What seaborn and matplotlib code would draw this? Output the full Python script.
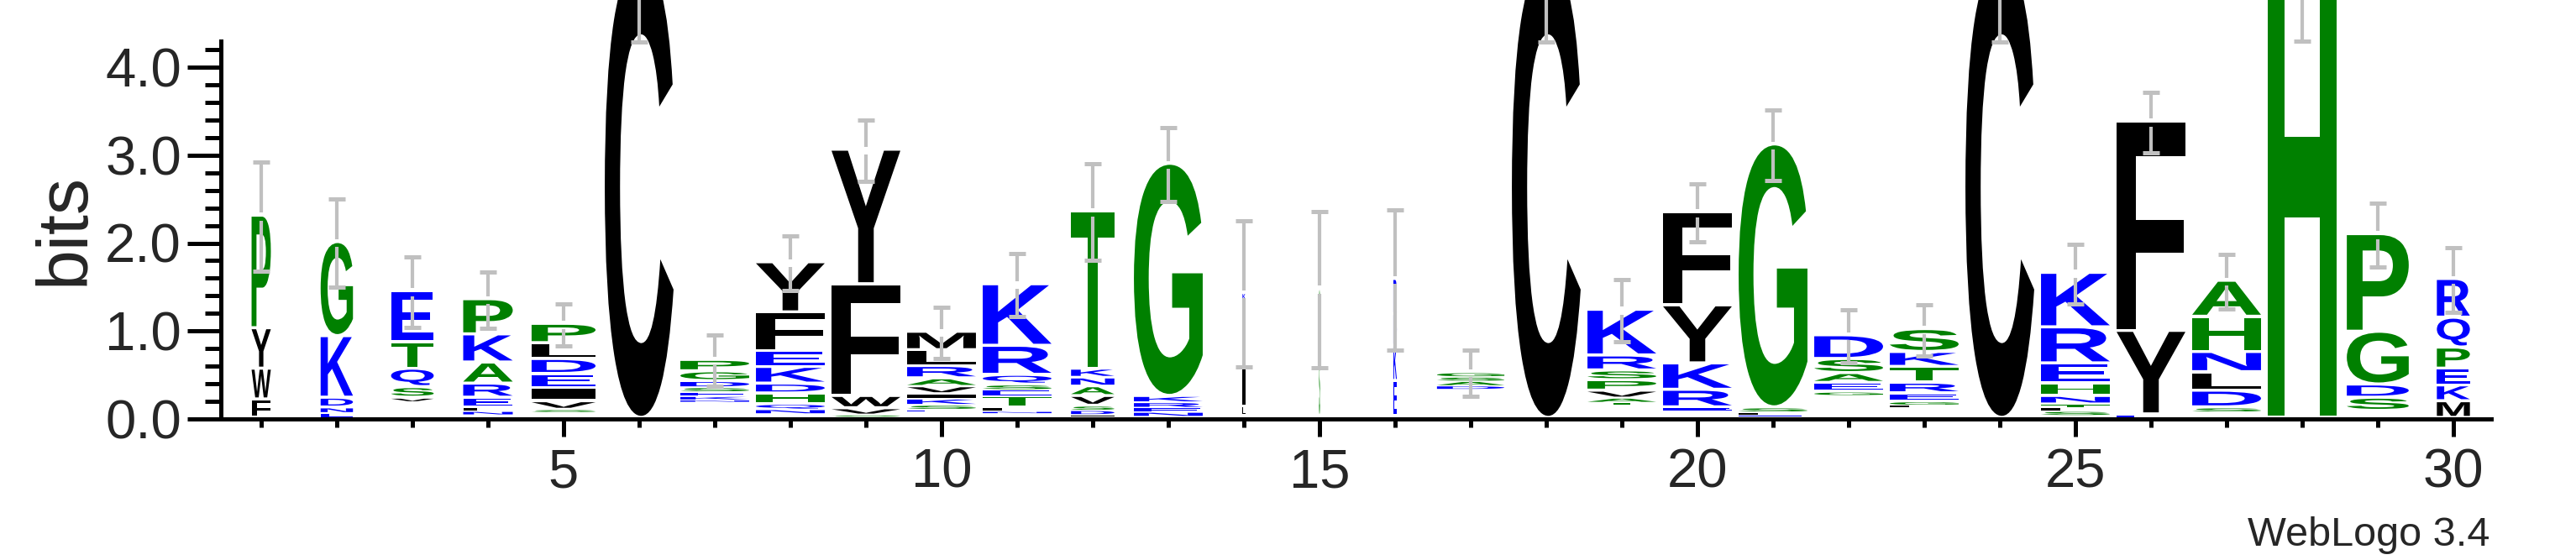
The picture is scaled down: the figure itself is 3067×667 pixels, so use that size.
import matplotlib
matplotlib.use("Agg")
import matplotlib.pyplot as plt
import matplotlib.transforms as mtransforms
from matplotlib.textpath import TextPath
from matplotlib.patches import PathPatch
from matplotlib.font_manager import FontProperties
from matplotlib.ticker import FixedLocator
import seaborn as sns

# sequence logo data, one entry per position (letters listed bottom -> top)
positions = list(range(1, 31))
stack_letters = [
    "FWYP", "ENDKG", "VSQTE", "NLERAKP", "SVIEDLP", "C",
    "NKESDGP", "NQHDKEFY", "SVWFY", "ESKIVARLM", "NLTESQRK", "IDSVANKT",
    "NERKG", "LIVAK", "SG", "EKDR", "DASG", "C",
    "TAVPSRK", "ERKYF", "ELSG", "GEASD", "LGERTKS", "C",
    "SLTNHERK", "EYF", "SDLNHA", "H", "SDGP", "MKEPQR",
]
stack_heights = [
    [0.21, 0.35, 0.46, 1.28],
    [0.06, 0.06, 0.11, 0.70, 1.07],
    [0.04, 0.12, 0.21, 0.30, 0.58],
    [0.04, 0.04, 0.11, 0.16, 0.24, 0.32, 0.40],
    [0.03, 0.09, 0.15, 0.16, 0.17, 0.18, 0.22],
    [5.20],
    [0.02, 0.04, 0.05, 0.05, 0.07, 0.11, 0.13],
    [0.05, 0.06, 0.12, 0.11, 0.19, 0.18, 0.44, 0.57],
    [0.02, 0.07, 0.14, 1.27, 1.53],
    [0.02, 0.05, 0.07, 0.06, 0.08, 0.09, 0.14, 0.18, 0.21],
    [0.02, 0.04, 0.13, 0.07, 0.06, 0.11, 0.33, 0.70],
    [0.02, 0.05, 0.05, 0.11, 0.11, 0.10, 0.10, 1.79],
    [0.05, 0.05, 0.06, 0.07, 2.64],
    [0.11, 0.43, 0.40, 0.38, 0.08],
    [0.70, 0.75],
    [0.40, 0.40, 0.36, 0.40],
    [0.04, 0.05, 0.05, 0.05],
    [5.20],
    [0.02, 0.05, 0.08, 0.12, 0.11, 0.17, 0.52],
    [0.03, 0.20, 0.30, 0.66, 1.06],
    [0.02, 0.03, 0.05, 2.99],
    [0.04, 0.10, 0.11, 0.16, 0.27],
    [0.02, 0.04, 0.09, 0.12, 0.18, 0.17, 0.26],
    [5.20],
    [0.05, 0.04, 0.04, 0.09, 0.14, 0.23, 0.41, 0.62],
    [0.03, 0.95, 2.38],
    [0.05, 0.19, 0.21, 0.23, 0.40, 0.41],
    [5.30],
    [0.15, 0.15, 0.60, 1.11],
    [0.19, 0.18, 0.19, 0.24, 0.34, 0.44],
]
# summed height of symbols too small to show at the bottom of each stack
hidden_height = [0.00, 0.00, 0.19, 0.04, 0.07, 0.00, 0.19, 0.05, 0.02, 0.08,
                 0.06, 0.02, 0.02, 0.02, 0.02, 0.02, 0.33, 0.00, 0.16, 0.09,
                 0.02, 0.26, 0.13, 0.00, 0.03, 0.01, 0.07, 0.00, 0.08, 0.00]
# error bar half length (bits)
error_bits = [0.62, 0.50, 0.40, 0.32, 0.24, 0.91, 0.29, 0.31, 0.35, 0.29,
              0.36, 0.55, 0.42, 0.83, 0.89, 0.80, 0.26, 0.91, 0.35, 0.33,
              0.40, 0.30, 0.29, 0.91, 0.34, 0.34, 0.31, 1.00, 0.36, 0.37]
# fraction of non-gap symbols per column (scales the stack width)
width_frac = [0.28, 0.47, 0.62, 0.72, 0.93, 1.0, 1.0, 1.0, 1.0, 1.0,
              1.0, 0.63, 1.0, 0.04, 0.015, 0.05, 0.98, 1.0, 1.0, 1.0,
              1.0, 1.0, 1.0, 1.0, 1.0, 1.0, 1.0, 1.0, 0.90, 0.48]

# hydrophobicity colour scheme
blue, green, black = "#0000ff", "#008000", "#000000"
letter_colors = {}
for aa in "RKDENQ":
    letter_colors[aa] = blue
for aa in "SGHTAP":
    letter_colors[aa] = green
for aa in "YVMCLFIW":
    letter_colors[aa] = black

sns.set_style("ticks")
plt.rcParams["font.family"] = ["Liberation Sans", "DejaVu Sans"]

fig = plt.figure(figsize=(30.67, 6.67), dpi=100)
ax = fig.add_axes([266 / 3067, 1 - 499 / 667, 2700 / 3067, 499 / 667])

glyph_font = FontProperties(family="Liberation Sans", weight="bold")


def draw_letter(ax, ch, xc, y0, w, h, color):
    pad = min(0.035, 0.3 * h)
    tp = TextPath((0, 0), ch, size=1, prop=glyph_font)
    bb = tp.get_extents()
    tr = (mtransforms.Affine2D()
          .translate(-bb.x0, -bb.y0)
          .scale(w / bb.width, (h - pad) / bb.height)
          .translate(xc - w / 2, y0 + pad))
    ax.add_patch(PathPatch(tr.transform_path(tp), fc=color, ec="none", lw=0))


# draw the letter stacks
stack_tops = []
for pos, letters, heights, base, wf in zip(positions, stack_letters, stack_heights,
                                           hidden_height, width_frac):
    y = base
    for ch, h in zip(letters, heights):
        draw_letter(ax, ch, pos, y, 0.91 * wf, h, letter_colors[ch])
        y += h
    stack_tops.append(y)

# error bars (upper and lower halves with caps)
gap = 0.045
for pos, top, err in zip(positions, stack_tops, error_bits):
    ax.vlines(pos, top + gap, top + err, color="#c0c0c0", lw=3)
    ax.vlines(pos, top - err, top - gap, color="#c0c0c0", lw=3)
    ax.hlines([top - err, top + err], pos - 0.115, pos + 0.115, color="#c0c0c0", lw=3.6)

ax.set_xlim(0.5, 30.5)
ax.set_ylim(0, 499 / 104.75)

ax.xaxis.set_major_locator(FixedLocator([5, 10, 15, 20, 25, 30]))
ax.xaxis.set_minor_locator(FixedLocator([p for p in positions if p % 5]))
ax.set_xticklabels(["5", "10", "15", "20", "25", "30"])
ax.yaxis.set_major_locator(FixedLocator([0, 1, 2, 3, 4]))
ax.yaxis.set_minor_locator(FixedLocator([i * 0.2 for i in range(22) if i % 5]))
ax.set_yticklabels(["0.0", "1.0", "2.0", "3.0", "4.0"])

ax.tick_params(axis="x", which="major", length=15, width=3.6, labelsize=47, pad=10, color="black")
ax.tick_params(axis="x", which="minor", length=7.5, width=3.6, color="black")
ax.tick_params(axis="y", which="major", length=28.5, width=3.6, labelsize=47, pad=5, color="black")
ax.tick_params(axis="y", which="minor", length=13.5, width=3.6, color="black")

sns.despine(ax=ax)
for side in ["left", "bottom"]:
    ax.spines[side].set_linewidth(3.6)
    ax.spines[side].set_color("black")
ax.spines["left"].set_position(("outward", 2.5))
ax.spines["left"].set_bounds(0, 4.3)

ax.set_ylabel("bits", fontsize=62, va="baseline")
ax.yaxis.set_label_coords((100 - 266) / 2700, (499 - 273) / 499)

fig.text(2964 / 3067, 1 - 650 / 667, "WebLogo 3.4", ha="right", va="baseline", fontsize=35)

fig.savefig("out.png", dpi=100, facecolor="white")
